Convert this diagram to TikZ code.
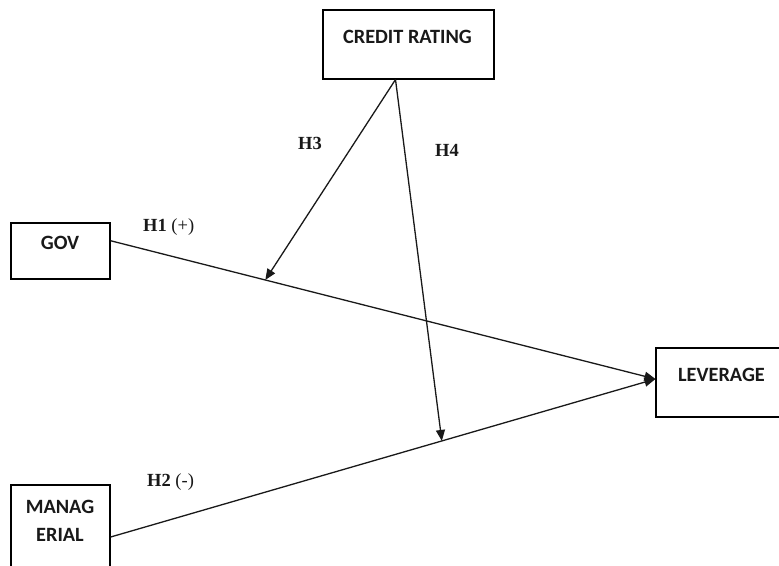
\documentclass[tikz,border=0pt]{standalone}
\usepackage{fontspec}
\setmainfont{Liberation Serif}
\newfontfamily\boxfont{Carlito}
\usetikzlibrary{arrows.meta,calc}
\tikzset{
  box/.style={draw=black, line width=1.1pt, fill=white, inner sep=0pt},
  boxtext/.style={font=\boxfont\bfseries\fontsize{20.3}{28}\selectfont, text=black!90, inner sep=0pt, align=center},
  hlabel/.style={font=\fontsize{18.5}{20}\selectfont, text=black!90, inner sep=0pt},
  path/.style={draw=black!90, line width=1.3pt},
  arr/.style={path, -{Triangle[length=11pt,width=9pt]}}
}
\begin{document}
\begin{tikzpicture}[x=1pt,y=-1pt]
\useasboundingbox (0,0) rectangle (779,565);
\clip (0,0) rectangle (779,565);
\fill[white] (0,0) rectangle (779,565);
% boxes
\node[box, minimum width=171pt, minimum height=69pt] (cr) at (408.5,44.5) {};
\node[boxtext] (crt) at (407.5,37) {CREDIT RATING};
\node[box, minimum width=99pt, minimum height=56pt] (gov) at (60.5,251) {};
\node[boxtext] (govt) at (60,243) {GOV};
\node[box, minimum width=99pt, minimum height=100pt] (man) at (60.5,535) {};
\node[boxtext] (mant) at (60,521) {MANAG\\ERIAL};
\node[box, minimum width=140pt, minimum height=69pt] (lev) at (726,382.5) {};
\node[boxtext] (levt) at (721.5,375) {LEVERAGE};
% anchor points
\coordinate (govout) at ($(gov.north east)!0.32!(gov.south east)$);
\coordinate (manout) at ($(man.north east)!0.52!(man.south east)$);
\coordinate (levin) at ($(lev.north west)!0.45!(lev.south west)$);
\coordinate (crout) at ($(cr.south)+(-13,0)$);
% main paths
\draw[arr] (govout) -- (levin);
\draw[arr] (manout) -- (levin);
\coordinate (h3end) at ($(govout)!0.284!(levin)$);
\coordinate (h4end) at ($(manout)!0.608!(levin)$);
\draw[arr] (crout) -- (h3end);
\draw[arr] (crout) -- (h4end);
% labels
\node[hlabel, anchor=west] (h1) at (143,227) {\textbf{H1} (+)};
\node[hlabel, anchor=west] (h2) at (147,482) {\textbf{H2} (-)};
\node[hlabel] (h3) at (310,143) {\textbf{H3}};
\node[hlabel] (h4) at (447,150) {\textbf{H4}};
\end{tikzpicture}
\end{document}
